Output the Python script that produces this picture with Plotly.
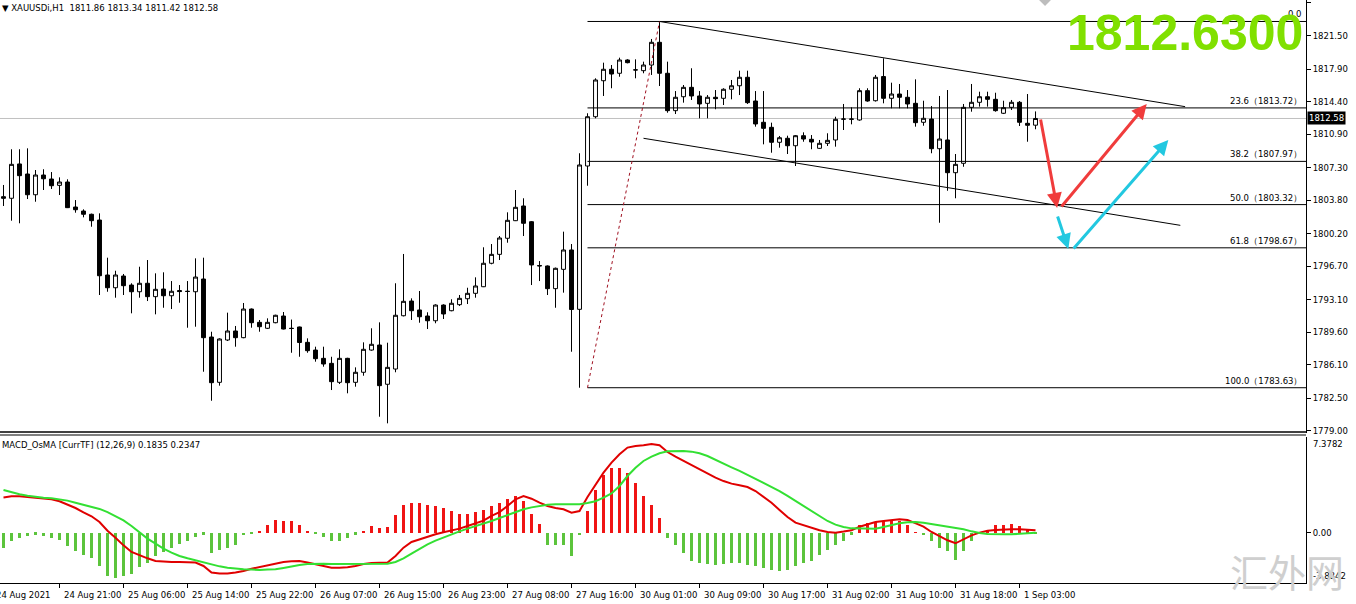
import plotly.graph_objects as go

# XAUUSDi H1 bars, index 0..129 (last bar = 1 Sep 05:00)
opens = [1804.17, 1804.00, 1807.69, 1806.61, 1804.38, 1806.50, 1806.07, 1805.39, 1805.75, 1803.06,
         1802.63, 1802.28, 1801.66, 1795.75, 1794.38, 1795.64, 1794.67, 1793.95, 1794.86, 1793.42,
         1794.24, 1793.52, 1794.08, 1794.00, 1793.95, 1795.32, 1789.08, 1784.21, 1788.76, 1789.73,
         1789.01, 1792.09, 1790.66, 1790.02, 1790.62, 1791.34, 1790.02, 1790.16, 1788.51, 1787.68,
         1786.79, 1786.25, 1784.21, 1786.79, 1784.21, 1785.29, 1787.68, 1788.22, 1784.00, 1785.64,
         1791.37, 1792.95, 1791.99, 1791.34, 1790.83, 1792.52, 1791.91, 1792.56, 1793.20, 1793.78,
         1794.49, 1797.01, 1797.97, 1799.70, 1801.59, 1803.17, 1801.48, 1796.77, 1796.72, 1794.28,
         1796.36, 1798.44, 1792.06, 1807.47, 1812.77, 1816.64, 1817.87, 1817.44, 1818.87, 1817.79,
         1817.72, 1818.33, 1820.77, 1817.44, 1813.42, 1814.92, 1815.93, 1815.00, 1814.21, 1814.86,
         1814.75, 1815.72, 1816.10, 1817.01, 1814.46, 1812.17, 1811.63, 1810.02, 1810.45, 1809.65,
         1810.73, 1810.34, 1809.37, 1809.91, 1810.27, 1812.50, 1812.49, 1812.42, 1815.57, 1814.49,
         1817.09, 1814.75, 1815.21, 1814.86, 1814.21, 1812.17, 1812.52, 1809.33, 1810.27, 1806.75,
         1807.76, 1813.78, 1814.32, 1814.92, 1814.64, 1813.14, 1813.78, 1814.32, 1812.06, 1811.86]
highs = [1805.43, 1809.27, 1809.27, 1809.37, 1807.04, 1807.12, 1806.82, 1806.25, 1806.04, 1803.81,
         1802.81, 1802.35, 1802.38, 1797.61, 1796.21, 1795.86, 1794.86, 1796.64, 1797.36, 1795.93,
         1796.04, 1795.10, 1794.67, 1795.10, 1797.54, 1797.61, 1789.65, 1788.94, 1791.70, 1790.27,
         1792.74, 1792.15, 1790.91, 1791.09, 1791.48, 1791.77, 1790.96, 1790.20, 1788.94, 1788.04,
         1788.04, 1786.96, 1787.76, 1786.85, 1785.82, 1788.51, 1790.02, 1790.66, 1788.47, 1794.86,
         1798.01, 1793.24, 1794.03, 1791.74, 1792.60, 1792.60, 1793.14, 1793.60, 1794.38, 1795.50,
         1798.73, 1799.08, 1799.94, 1802.49, 1804.89, 1804.00, 1801.55, 1797.25, 1796.78, 1796.55,
         1800.41, 1799.08, 1808.84, 1813.14, 1816.90, 1818.58, 1818.33, 1819.12, 1818.95, 1818.94,
         1818.69, 1821.13, 1823.01, 1818.69, 1815.53, 1816.18, 1817.98, 1815.53, 1815.10, 1815.64,
         1815.83, 1816.72, 1817.72, 1817.72, 1815.53, 1815.53, 1812.13, 1810.70, 1810.73, 1810.80,
         1811.09, 1810.80, 1810.27, 1810.99, 1812.77, 1814.14, 1813.78, 1815.83, 1815.83, 1817.26,
         1819.05, 1816.43, 1816.29, 1815.64, 1816.79, 1814.49, 1813.92, 1815.00, 1815.64, 1808.76,
         1814.14, 1816.29, 1815.46, 1815.46, 1815.35, 1814.49, 1814.57, 1814.46, 1815.21, 1813.34]
lows = [1803.17, 1801.59, 1801.31, 1803.92, 1803.63, 1804.89, 1805.00, 1804.35, 1802.95, 1802.45,
        1801.95, 1800.94, 1793.60, 1793.95, 1793.31, 1793.60, 1791.63, 1793.31, 1792.95, 1791.52,
        1792.23, 1792.09, 1792.77, 1790.08, 1790.19, 1785.35, 1782.23, 1783.85, 1788.65, 1788.04,
        1788.95, 1790.08, 1789.65, 1789.94, 1790.56, 1789.90, 1787.39, 1786.96, 1787.39, 1786.43,
        1785.89, 1783.38, 1784.03, 1783.03, 1783.74, 1784.92, 1787.61, 1780.51, 1779.80, 1785.29,
        1791.30, 1790.91, 1790.62, 1789.94, 1790.56, 1791.02, 1791.85, 1792.42, 1792.63, 1793.31,
        1794.45, 1796.90, 1797.36, 1799.22, 1801.55, 1799.94, 1794.67, 1795.10, 1793.60, 1792.23,
        1793.85, 1787.50, 1783.63, 1805.35, 1812.60, 1815.00, 1815.83, 1817.07, 1818.51, 1816.90,
        1817.44, 1817.26, 1816.07, 1813.20, 1813.06, 1814.28, 1814.57, 1812.60, 1812.60, 1813.57,
        1814.03, 1814.64, 1815.10, 1814.14, 1811.70, 1809.80, 1808.90, 1809.44, 1808.76, 1807.47,
        1810.08, 1809.27, 1809.30, 1809.62, 1809.55, 1811.34, 1811.95, 1812.34, 1814.38, 1814.40,
        1814.21, 1813.67, 1813.67, 1813.67, 1811.70, 1811.80, 1808.84, 1801.37, 1804.81, 1804.00,
        1807.39, 1813.31, 1813.85, 1813.85, 1813.31, 1813.06, 1813.49, 1811.77, 1810.08, 1811.42]
closes = [1804.00, 1807.65, 1806.43, 1804.38, 1806.50, 1806.10, 1805.35, 1805.75, 1802.99, 1802.77,
          1802.28, 1801.59, 1795.67, 1794.38, 1795.75, 1794.60, 1793.95, 1794.86, 1793.42, 1794.21,
          1793.52, 1794.00, 1793.97, 1793.98, 1795.53, 1789.01, 1784.17, 1788.87, 1789.73, 1789.01,
          1792.09, 1790.62, 1790.19, 1790.66, 1791.42, 1789.94, 1790.00, 1788.49, 1787.61, 1786.75,
          1786.18, 1784.28, 1786.79, 1784.17, 1785.29, 1787.76, 1788.30, 1783.85, 1785.82, 1791.42,
          1792.92, 1791.91, 1791.26, 1790.83, 1792.52, 1791.56, 1792.71, 1793.24, 1793.78, 1794.57,
          1797.01, 1797.97, 1799.73, 1801.63, 1803.03, 1801.31, 1796.83, 1796.73, 1794.28, 1796.47,
          1798.44, 1792.04, 1807.58, 1812.77, 1816.72, 1817.87, 1817.36, 1818.87, 1818.58, 1817.81,
          1818.33, 1820.77, 1817.44, 1813.42, 1814.86, 1815.93, 1815.00, 1814.14, 1814.86, 1814.71,
          1815.72, 1816.10, 1817.01, 1814.28, 1811.99, 1811.52, 1810.02, 1810.51, 1809.65, 1810.73,
          1810.37, 1810.05, 1809.91, 1810.23, 1812.49, 1812.52, 1812.52, 1815.57, 1814.46, 1817.01,
          1814.75, 1815.21, 1814.86, 1814.14, 1812.13, 1812.60, 1809.33, 1810.37, 1806.75, 1807.65,
          1813.78, 1814.32, 1814.92, 1814.64, 1813.42, 1813.74, 1814.32, 1812.17, 1811.85, 1812.58]

# MACD_OsMA (12,26,9)
macd_main = [2.72, 2.80, 2.80, 2.75, 2.72, 2.65, 2.57, 2.42, 2.19, 1.90,
             1.57, 1.26, 0.82, 0.15, -0.39, -0.98, -1.49, -1.75, -1.98, -2.19,
             -2.24, -2.26, -2.26, -2.26, -2.31, -2.57, -3.08, -3.16, -3.16, -3.08,
             -2.96, -2.78, -2.65, -2.49, -2.39, -2.26, -2.21, -2.19, -2.31, -2.44,
             -2.62, -2.70, -2.70, -2.67, -2.57, -2.42, -2.34, -2.31, -2.31, -1.80,
             -1.16, -0.72, -0.51, -0.33, -0.13, 0.03, 0.15, 0.31, 0.51, 0.72,
             0.93, 1.29, 1.59, 2.06, 2.57, 2.83, 2.62, 2.31, 2.06, 1.90,
             1.80, 1.54, 1.67, 2.75, 3.73, 4.63, 5.40, 6.04, 6.56, 6.68,
             6.74, 6.84, 6.74, 6.22, 5.86, 5.53, 5.19, 4.88, 4.58, 4.24,
             3.98, 3.78, 3.65, 3.52, 3.21, 2.78, 2.31, 1.75, 1.21, 0.77,
             0.57, 0.36, 0.18, 0.05, 0.00, 0.08, 0.18, 0.46, 0.62, 0.82,
             0.90, 0.98, 1.03, 0.98, 0.72, 0.46, 0.05, -0.26, -0.59, -0.82,
             -0.51, -0.21, 0.00, 0.15, 0.21, 0.26, 0.26, 0.26, 0.20, 0.18]
macd_signal = [3.29, 3.11, 2.96, 2.85, 2.75, 2.70, 2.65, 2.57, 2.47, 2.31,
               2.16, 1.98, 1.83, 1.59, 1.29, 0.95, 0.51, 0.00, -0.46, -0.85,
               -1.23, -1.54, -1.80, -1.98, -2.13, -2.31, -2.47, -2.60, -2.70, -2.78,
               -2.83, -2.85, -2.88, -2.85, -2.83, -2.72, -2.60, -2.49, -2.42, -2.39,
               -2.39, -2.42, -2.42, -2.44, -2.44, -2.44, -2.44, -2.44, -2.39, -2.26,
               -1.98, -1.62, -1.26, -0.90, -0.62, -0.36, -0.13, 0.10, 0.31, 0.49,
               0.69, 0.90, 1.13, 1.36, 1.57, 1.80, 1.95, 2.08, 2.16, 2.19,
               2.19, 2.19, 2.19, 2.29, 2.42, 2.70, 3.03, 3.60, 4.37, 5.01,
               5.53, 5.86, 6.12, 6.27, 6.30, 6.30, 6.25, 6.12, 5.91, 5.60,
               5.35, 5.04, 4.76, 4.45, 4.16, 3.86, 3.55, 3.21, 2.83, 2.44,
               2.06, 1.67, 1.29, 0.90, 0.62, 0.44, 0.33, 0.31, 0.31, 0.31,
               0.44, 0.59, 0.72, 0.80, 0.82, 0.77, 0.67, 0.59, 0.49, 0.39,
               0.26, 0.10, -0.03, -0.10, -0.13, -0.13, -0.13, -0.10, -0.05, 0.00]
osma = [-1.18, -0.62, -0.41, -0.28, -0.15, -0.28, -0.41, -0.54, -1.05, -1.44,
        -1.70, -1.95, -2.60, -3.37, -3.50, -3.37, -3.19, -2.67, -2.34, -1.83,
        -1.49, -1.18, -0.87, -0.62, -0.36, -0.15, -1.57, -1.31, -1.18, -0.93,
        -0.21, -0.10, 0.15, 0.57, 0.98, 0.93, 0.87, 0.57, 0.15, -0.10,
        -0.36, -0.62, -0.62, -0.41, -0.15, 0.10, 0.49, 0.36, 0.41, 1.39,
        2.11, 2.29, 2.29, 2.11, 2.03, 1.90, 1.65, 1.44, 1.44, 1.59,
        1.77, 2.03, 2.29, 2.62, 2.80, 2.42, 1.44, 0.67, -0.93, -0.93,
        -0.98, -1.83, -0.21, 1.65, 3.32, 4.47, 4.99, 4.99, 4.60, 3.83,
        2.80, 2.16, 1.13, -0.41, -0.93, -1.57, -2.16, -2.34, -2.42, -2.47,
        -2.42, -2.34, -2.34, -2.47, -2.60, -2.72, -2.85, -2.93, -2.85, -2.60,
        -2.34, -2.16, -1.70, -1.31, -0.93, -0.62, -0.15, 0.57, 0.75, 0.82,
        0.93, 0.98, 0.87, 0.62, 0.05, -0.21, -0.62, -1.18, -1.44, -2.08,
        -1.39, -0.67, 0.05, 0.23, 0.57, 0.62, 0.67, 0.49, 0.28, -0.05]

date_ticks = [7, 15, 23, 31, 39, 47, 55, 63, 71, 79, 87, 95, 103, 111, 119, 127]
date_labels = ["24 Aug 21:00", "25 Aug 06:00", "25 Aug 14:00", "25 Aug 22:00", "26 Aug 07:00",
               "26 Aug 15:00", "26 Aug 23:00", "27 Aug 08:00", "27 Aug 16:00", "30 Aug 01:00",
               "30 Aug 09:00", "30 Aug 17:00", "31 Aug 02:00", "31 Aug 10:00", "31 Aug 18:00",
               "1 Sep 03:00"]
price_ticks = [1825.00, 1821.50, 1817.90, 1814.40, 1810.90, 1807.30, 1803.80, 1800.20,
               1796.70, 1793.10, 1789.60, 1786.10, 1782.50, 1779.00]

# fibonacci retracement: (bar, price) of the swing low and high
fib_low = (73, 1783.63)
fib_high = (82, 1823.01)
fib_levels = [0.0, 23.6, 38.2, 50.0, 61.8, 100.0]

# channel lines: (bar, price) start and end
channel_upper = [(82, 1823.01), (147.7, 1813.85)]
channel_lower = [(80, 1810.45), (147.1, 1801.09)]

# forecast arrows: (tail bar, tail price, head bar, head price)
red_arrows = [(129.6, 1812.63, 131.7, 1802.96), (132.1, 1802.96, 142.9, 1814.14)]
cyan_arrows = [(131.7, 1802.20, 133.1, 1798.55), (133.6, 1798.44, 145.6, 1810.27)]

last_price = 1812.58
big_price = 1812.63
macd_label_values = (0.1835, 0.2347)
macd_top, macd_bottom = 7.3782, -3.8842

W, H = 1356, 604
PLOT_W = 1306
PLOT_H = 583
MAIN_BOTTOM = 433
SUB_TOP = 437
X0, X1 = -0.4375, 162.81

FONT = "DejaVu Sans"
idx = list(range(len(opens)))

fig = go.Figure()

fig.add_trace(go.Candlestick(
    x=idx, open=opens, high=highs, low=lows, close=closes,
    increasing=dict(line=dict(color="black", width=1), fillcolor="white"),
    decreasing=dict(line=dict(color="black", width=1), fillcolor="black"),
    whiskerwidth=0, showlegend=False, hoverinfo="skip",
    xaxis="x", yaxis="y"
))

bar_colors = ["#F01414" if v >= 0 else "#5CC43C" for v in osma]
fig.add_trace(go.Bar(
    x=idx, y=osma, marker_color=bar_colors, marker_line_width=0,
    width=0.3, showlegend=False, xaxis="x2", yaxis="y2"
))
fig.add_trace(go.Scatter(
    x=idx, y=macd_main, mode="lines", line=dict(color="#E00000", width=2),
    showlegend=False, xaxis="x2", yaxis="y2"
))
fig.add_trace(go.Scatter(
    x=idx, y=macd_signal, mode="lines", line=dict(color="#33E033", width=2),
    showlegend=False, xaxis="x2", yaxis="y2"
))

shapes = []
# current price line
shapes.append(dict(type="line", xref="paper", yref="y", x0=0, x1=1,
                   y0=last_price, y1=last_price, line=dict(color="#C0C0C0", width=1),
                   layer="below"))

# fib levels
rng = fib_high[1] - fib_low[1]
annotations = []
for lvl in fib_levels:
    p = fib_high[1] - rng * lvl / 100.0
    shapes.append(dict(type="line", xref="x", yref="y", x0=fib_low[0], x1=X1,
                       y0=p, y1=p, line=dict(color="black", width=1)))
    txt = "0.0" if lvl == 0 else "%.1f（%.2f）" % (lvl, p)
    annotations.append(dict(xref="paper", yref="y", x=1, y=p, xanchor="right",
                            yanchor="bottom", xshift=-2, text=txt, showarrow=False,
                            font=dict(family=FONT, size=8.5, color="black")))

# fib trend line (dotted)
shapes.append(dict(type="line", xref="x", yref="y", x0=fib_low[0], y0=fib_low[1],
                   x1=fib_high[0], y1=fib_high[1],
                   line=dict(color="#A01020", width=1, dash="dot")))

for seg in (channel_upper, channel_lower):
    shapes.append(dict(type="line", xref="x", yref="y", x0=seg[0][0], y0=seg[0][1],
                       x1=seg[1][0], y1=seg[1][1], line=dict(color="black", width=1)))

# panel separator (double line)
for yp in (432, 435):
    shapes.append(dict(type="line", xref="paper", yref="paper", x0=0, x1=1,
                       y0=1 - yp / PLOT_H, y1=1 - yp / PLOT_H,
                       line=dict(color="black", width=1.5 if yp == 432 else 1)))

# chart-shift marker at the top edge
shapes.append(dict(type="path", xref="paper", yref="paper",
                   path="M %.4f,1 L %.4f,1 L %.4f,%.4f Z" % (1039 / PLOT_W, 1051 / PLOT_W,
                                                            1045 / PLOT_W, 1 - 6 / PLOT_H),
                   fillcolor="#BDBDBD", line=dict(width=0)))

for arrows, col in ((red_arrows, "#F03C3C"), (cyan_arrows, "#22C8E0")):
    for tx, ty, hx, hy in arrows:
        annotations.append(dict(xref="x", yref="y", x=hx, y=hy, axref="x", ayref="y",
                                ax=tx, ay=ty, text="", showarrow=True, arrowhead=2,
                                arrowsize=1, arrowwidth=3, arrowcolor=col))

# header
annotations.append(dict(xref="paper", yref="paper", x=0, y=1 - 8 / PLOT_H,
                        xanchor="left", yanchor="middle", showarrow=False,
                        text="▼ XAUUSDi,H1  %.2f %.2f %.2f %.2f" % (opens[-1], highs[-1], lows[-1], closes[-1]),
                        font=dict(family=FONT, size=8.5, color="black")))
# big price
annotations.append(dict(xref="paper", yref="paper", x=1305 / PLOT_W, y=1 - 33 / PLOT_H,
                        xanchor="right", yanchor="middle", showarrow=False,
                        text="<b>%.4f</b>" % big_price,
                        font=dict(family="Liberation Sans", size=50, color="#80E000")))
# current price box
annotations.append(dict(xref="paper", yref="y", x=1, y=last_price, xanchor="left",
                        yanchor="middle", showarrow=False, text="%.2f" % last_price,
                        bgcolor="black", borderpad=1, xshift=1,
                        font=dict(family=FONT, size=8.5, color="white")))
# MACD label
annotations.append(dict(xref="paper", yref="paper", x=0, y=1 - 445 / PLOT_H,
                        xanchor="left", yanchor="middle", showarrow=False,
                        text="MACD_OsMA [CurrTF] (12,26,9) %.4f %.4f" % macd_label_values,
                        font=dict(family=FONT, size=8.5, color="black")))
annotations.append(dict(xref="paper", yref="paper", x=1, y=1 - SUB_TOP / PLOT_H,
                        xanchor="left", yanchor="top", xshift=5, showarrow=False,
                        text="%.4f" % macd_top, font=dict(family=FONT, size=8.5, color="black")))
annotations.append(dict(xref="paper", yref="paper", x=1, y=0,
                        xanchor="left", yanchor="bottom", xshift=5, showarrow=False,
                        text="%.4f" % macd_bottom, font=dict(family=FONT, size=8.5, color="black")))

# date labels
annotations.append(dict(xref="paper", yref="paper", x=-6 / PLOT_W, y=0, yshift=-12,
                        xanchor="left", yanchor="middle", showarrow=False,
                        text="24 Aug 2021", font=dict(family=FONT, size=8.5, color="black")))
for k, lab in zip(date_ticks, date_labels):
    annotations.append(dict(xref="x2", yref="paper", x=k, y=0, yshift=-12, xshift=2,
                            xanchor="left", yanchor="middle", showarrow=False,
                            text=lab, font=dict(family=FONT, size=8.5, color="black")))

# watermark
annotations.append(dict(xref="paper", yref="paper", x=1287 / PLOT_W, y=1 - 570 / PLOT_H,
                        xanchor="center", yanchor="middle", showarrow=False, text="汇外网",
                        font=dict(family="Noto Sans CJK SC", size=38, color="#CFCFCF")))

fig.update_layout(
    width=W, height=H,
    margin=dict(l=0, r=50, t=0, b=21),
    paper_bgcolor="white", plot_bgcolor="white",
    showlegend=False,
    bargap=0,
    xaxis=dict(domain=[0, 1], range=[X0, X1], showgrid=False, zeroline=False,
               showticklabels=False, rangeslider=dict(visible=False), anchor="y"),
    yaxis=dict(domain=[1 - MAIN_BOTTOM / PLOT_H, 1], range=[1825.32 - MAIN_BOTTOM / 9.30, 1825.32],
               side="right", anchor="x", showgrid=False, zeroline=False,
               showline=True, linecolor="black", linewidth=1, ticks="outside", ticklen=4,
               tickcolor="black", tickvals=price_ticks, ticktext=["%.2f" % v for v in price_ticks],
               tickfont=dict(family=FONT, size=8.5, color="black")),
    xaxis2=dict(domain=[0, 1], range=[X0, X1], showgrid=False, zeroline=False, anchor="y2",
                showline=True, linecolor="black", linewidth=1, ticks="outside", ticklen=4,
                tickcolor="black", tickvals=date_ticks, showticklabels=False),
    yaxis2=dict(domain=[0, 1 - SUB_TOP / PLOT_H], range=[macd_bottom, macd_top],
                side="right", anchor="x2", showgrid=False, zeroline=False,
                showline=True, linecolor="black", linewidth=1, ticks="outside", ticklen=4,
                tickcolor="black", tickvals=[0], ticktext=["0.00"],
                tickfont=dict(family=FONT, size=8.5, color="black")),
    shapes=shapes,
    annotations=annotations,
)

fig.write_html("out.html", config={"displayModeBar": False},
               post_script="document.body.style.margin='0';")
